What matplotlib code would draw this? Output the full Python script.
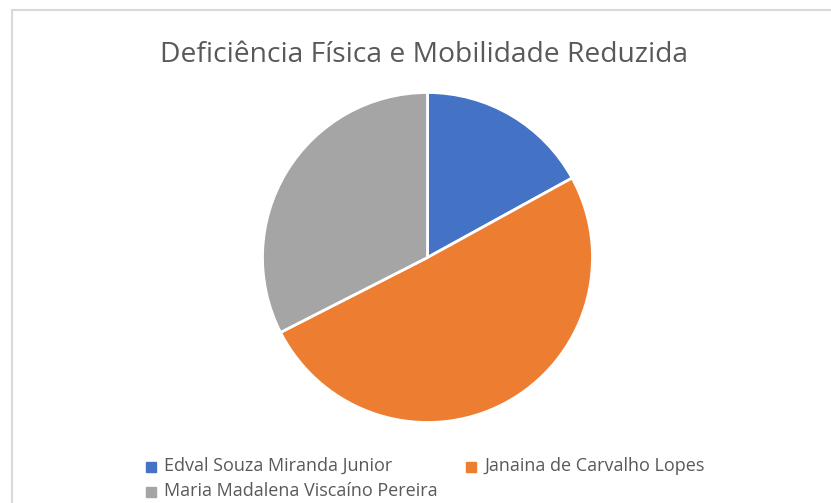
import matplotlib.pyplot as plt
from matplotlib.patches import Rectangle

# data
names = ["Edval Souza Miranda Junior", "Janaina de Carvalho Lopes",
         "Maria Madalena Viscaíno Pereira"]
values = [17, 50.5, 32.5]
colors = ["#4472C4", "#ED7D31", "#A5A5A5"]

W, H = 831, 503
fig = plt.figure(figsize=(W / 100, H / 100), dpi=100)
fig.patch.set_facecolor("white")

# chart frame (light gray border, Excel-style)
fig.patches.append(Rectangle((12 / W, -0.1), 1.2, (H - 9.5) / H + 0.1,
                             transform=fig.transFigure, fill=False,
                             edgecolor="#d9d9d9", linewidth=1.5))

fig.text(424 / W, 1 - 55 / H, "Deficiência Física e Mobilidade Reduzida",
         ha="center", va="center", fontsize=20.3, color="#595959",
         family="Open Sans")

# pie
cx, cy, r = 427.5, 257.5, 165
ax = fig.add_axes([(cx - r) / W, (H - cy - r) / H, 2 * r / W, 2 * r / H])
ax.pie(values, colors=colors, startangle=90, counterclock=False,
       wedgeprops=dict(edgecolor="white", linewidth=2))
ax.set_xlim(-1, 1)
ax.set_ylim(-1, 1)
ax.set_aspect("equal")
ax.axis("off")

# legend, drawn by hand to mimic Excel row layout
legend_pos = [(146, 467), (466, 467), (146, 492)]
for name, col, (lx, ly) in zip(names, colors, legend_pos):
    fig.patches.append(Rectangle((lx / W, 1 - (ly + 5) / H), 10 / W, 10 / H,
                                 transform=fig.transFigure, color=col))
    fig.text((lx + 18) / W, 1 - (ly - 1) / H, name, ha="left", va="center",
             fontsize=13, color="#595959", family="Open Sans")

fig.savefig("out.png", dpi=100)
